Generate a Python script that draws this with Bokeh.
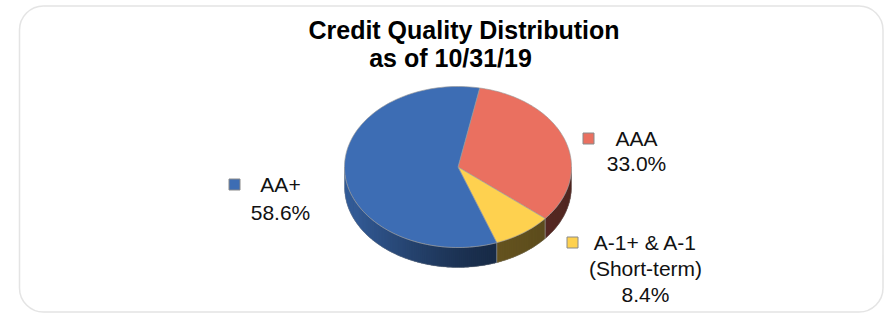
import numpy as np
from bokeh.plotting import figure
from bokeh.models import Range1d, BoxAnnotation
from bokeh.core.properties import value
from bokeh.embed import file_html
from bokeh.resources import INLINE

# ---- data ----
categories = ["AAA", "A-1+ & A-1\n(Short-term)", "AA+"]
values = [33.0, 8.4, 58.6]
colors = ["#EA7060", "#FED14F", "#3D6DB4"]
title_lines = ["Credit Quality Distribution", "as of 10/31/19"]

# ---- layout / style ----
W, H = 885, 314
CX, CY, RX, RY, DEPTH = 457.5, 166.5, 113.5, 80.5, 20.0
START = 11.0  # degrees clockwise from top
label_x = [636, 645, 280]
label_y = [138, 242, 184]
label_step = [25, 26, 28]
marker_x = [588, 572, 234]
marker_y = [138, 242, 184]
title_x = [463.5, 450]
title_y = [29, 57]
FONT = value("Liberation Sans")

p = figure(width=W, height=H, x_range=Range1d(0, W), y_range=Range1d(H, 0),
           x_axis_type=None, y_axis_type=None, toolbar_location=None,
           output_backend="svg", min_border=0, outline_line_color=None,
           background_fill_color="white", border_fill_color="white")
p.grid.visible = False

p.add_layout(BoxAnnotation(left=19, right=882.5, top=5.5, bottom=311.5, fill_color=None,
                           line_color="#A6A6A6", line_width=1.5, border_radius=24))


def ex(t):
    return CX + RX * np.sin(np.radians(t))


def ey(t):
    return CY - RY * np.cos(np.radians(t))


def hex2rgb(h):
    h = h.lstrip("#")
    return np.array([int(h[i:i + 2], 16) for i in (0, 2, 4)], dtype=float)


def shade(h, x):
    u = (x - (CX - RX)) / (2 * RX)
    if u < 0.65:
        f = 0.40 + 0.47 * (1 - u / 0.65) ** 1.3
    else:
        f = 0.40 - 0.05 * (u - 0.65) / 0.35
    c = np.clip(hex2rgb(h) * f, 0, 255).astype(int)
    return "#%02x%02x%02x" % tuple(c)


fr = np.array(values) / sum(values)
bounds = START + np.concatenate([[0], np.cumsum(fr) * 360])

# side faces (front half only)
sx, sy, sc = [], [], []
ox, oy, oc = [], [], []
for i in range(len(values)):
    a0, a1 = bounds[i], bounds[i + 1]
    lo, hi = max(a0, 90.0), min(a1, 270.0)
    if hi <= lo:
        continue
    n = max(2, int((hi - lo) / 1.0))
    ts = np.linspace(lo, hi, n + 1)
    step = ts[1] - ts[0]
    for k in range(n):
        t0 = ts[k]
        t1 = min(ts[k + 1] + 0.6 * step, hi) if k < n - 1 else ts[k + 1]
        tt = np.array([t0, (t0 + t1) / 2, t1])
        xs = list(ex(tt)) + list(ex(tt[::-1]))
        ys = list(ey(tt)) + list(ey(tt[::-1]) + DEPTH)
        sx.append(xs)
        sy.append(ys)
        sc.append(shade(colors[i], (xs[0] + xs[2]) / 2))
    ox.append(list(ex(ts)) + list(ex(ts[::-1])))
    oy.append(list(ey(ts)) + list(ey(ts[::-1]) + DEPTH))
    oc.append(shade(colors[i], ex((lo + hi) / 2)))

p.patches(ox, oy, fill_color=oc, line_color=None)
p.patches(sx, sy, fill_color=sc, line_color=None)
p.patches(ox, oy, fill_color=None, line_color="#9a9a9a", line_alpha=0.6, line_width=0.7)

# top faces
tx, ty = [], []
for i in range(len(values)):
    ts = np.linspace(bounds[i], bounds[i + 1], 120)
    tx.append([CX] + list(ex(ts)))
    ty.append([CY] + list(ey(ts)))
p.patches(tx, ty, fill_color=colors, line_color="#9a9a9a", line_alpha=0.8, line_width=0.8)

# legend-style labels
p.scatter(marker_x, marker_y, marker="square", size=11, fill_color=colors,
          line_color="#8a8a8a", line_width=1)
lx, ly, lt = [], [], []
for i, cat in enumerate(categories):
    lines = cat.split("\n") + [f"{values[i]:.1f}%"]
    for j, s in enumerate(lines):
        lx.append(label_x[i])
        ly.append(label_y[i] + j * label_step[i])
        lt.append(s)
p.text(lx, ly, text=lt, text_font=FONT, text_font_size="21px", text_color="#111111",
       text_align="center", text_baseline="middle")

p.text(title_x, title_y, text=title_lines, text_font=FONT, text_font_size="25px",
       text_font_style="bold", text_color="#000000", text_align="center",
       text_baseline="middle")

open("out.html", "w").write(file_html(p, INLINE))
